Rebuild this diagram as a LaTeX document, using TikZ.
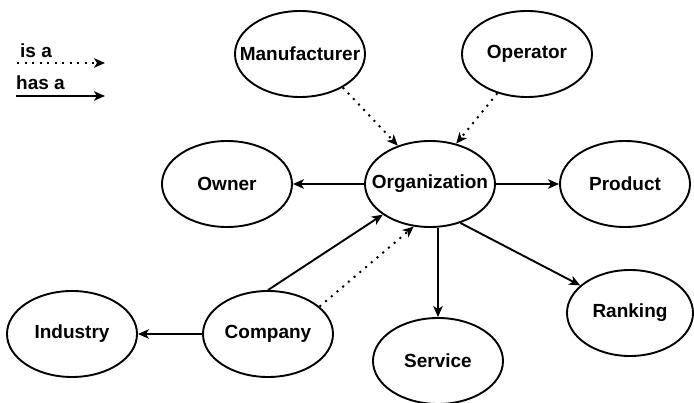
\documentclass[tikz,border=0pt]{standalone}
\usepackage{fontspec}
\setmainfont{Liberation Sans}
\usetikzlibrary{shapes.geometric,arrows.meta}
\newcommand{\centredlabel}[1]{\makebox[0pt]{#1}}
\begin{document}
\begin{tikzpicture}[x=1pt,y=-1pt,
  entity/.style={ellipse,draw,line width=1.9pt,minimum width=130pt,minimum height=86pt,
    inner sep=0pt,font=\fontsize{19}{22}\selectfont\bfseries},
  hasa/.style={line width=1.9pt,-{Stealth[length=11pt,width=9.5pt,inset=3pt]}},
  isa/.style={line width=2pt,dash pattern=on 2pt off 5.5pt,-{Stealth[length=11pt,width=9.5pt,inset=3pt]}},
  legend/.style={anchor=base west,inner sep=0pt,font=\fontsize{19}{22}\selectfont\bfseries}]
  \useasboundingbox (0,0) rectangle (694,403);

  % entities (labels kept out of the ellipse size)
  \node[entity] (man)  at (300,54)  {\centredlabel{Manufacturer}};
  \node[entity] (op)   at (527,54)  {\centredlabel{Operator}};
  \node[entity] (own)  at (227,184) {\centredlabel{Owner}};
  \node[entity] (org)  at (430,184) {\centredlabel{Organization}};
  \node[entity] (prod) at (625,184) {\centredlabel{Product}};
  \node[entity, minimum width=126pt] (rank) at (630,313) {\centredlabel{Ranking}};
  \node[entity] (ind)  at (72,334)  {\centredlabel{Industry}};
  \node[entity] (comp) at (268,334) {\centredlabel{Company}};
  \node[entity] (svc)  at (438,361) {\centredlabel{Service}};

  % legend
  \node[legend] (lisa) at (20,58) {is a};
  \node[legend] (lhas) at (16,90) {has a};
  \coordinate (isaA) at (17,63);
  \coordinate (isaB) at (105,63);
  \coordinate (hasA) at (16,96);
  \coordinate (hasB) at (105,96);
  \draw[isa]  (isaA) -- (isaB);
  \draw[hasa] (hasA) -- (hasB);

  % "is a" relations
  \draw[isa] (man.-38) -- (org.130);
  \draw[isa] (op.-127) -- (org.57);
  \draw[isa] (comp.28) -- (org.-111);

  % "has a" relations
  \draw[hasa] (org.west) -- (own.east);
  \draw[hasa] (org.east) -- (prod.west);
  \draw[hasa] (org.south -| svc.north) -- (svc.north);
  \draw[hasa] (org.-52) -- (rank.151);
  \draw[hasa] (comp.north) -- (org.-147);
  \draw[hasa] (comp.west) -- (ind.east);
\end{tikzpicture}
\end{document}
